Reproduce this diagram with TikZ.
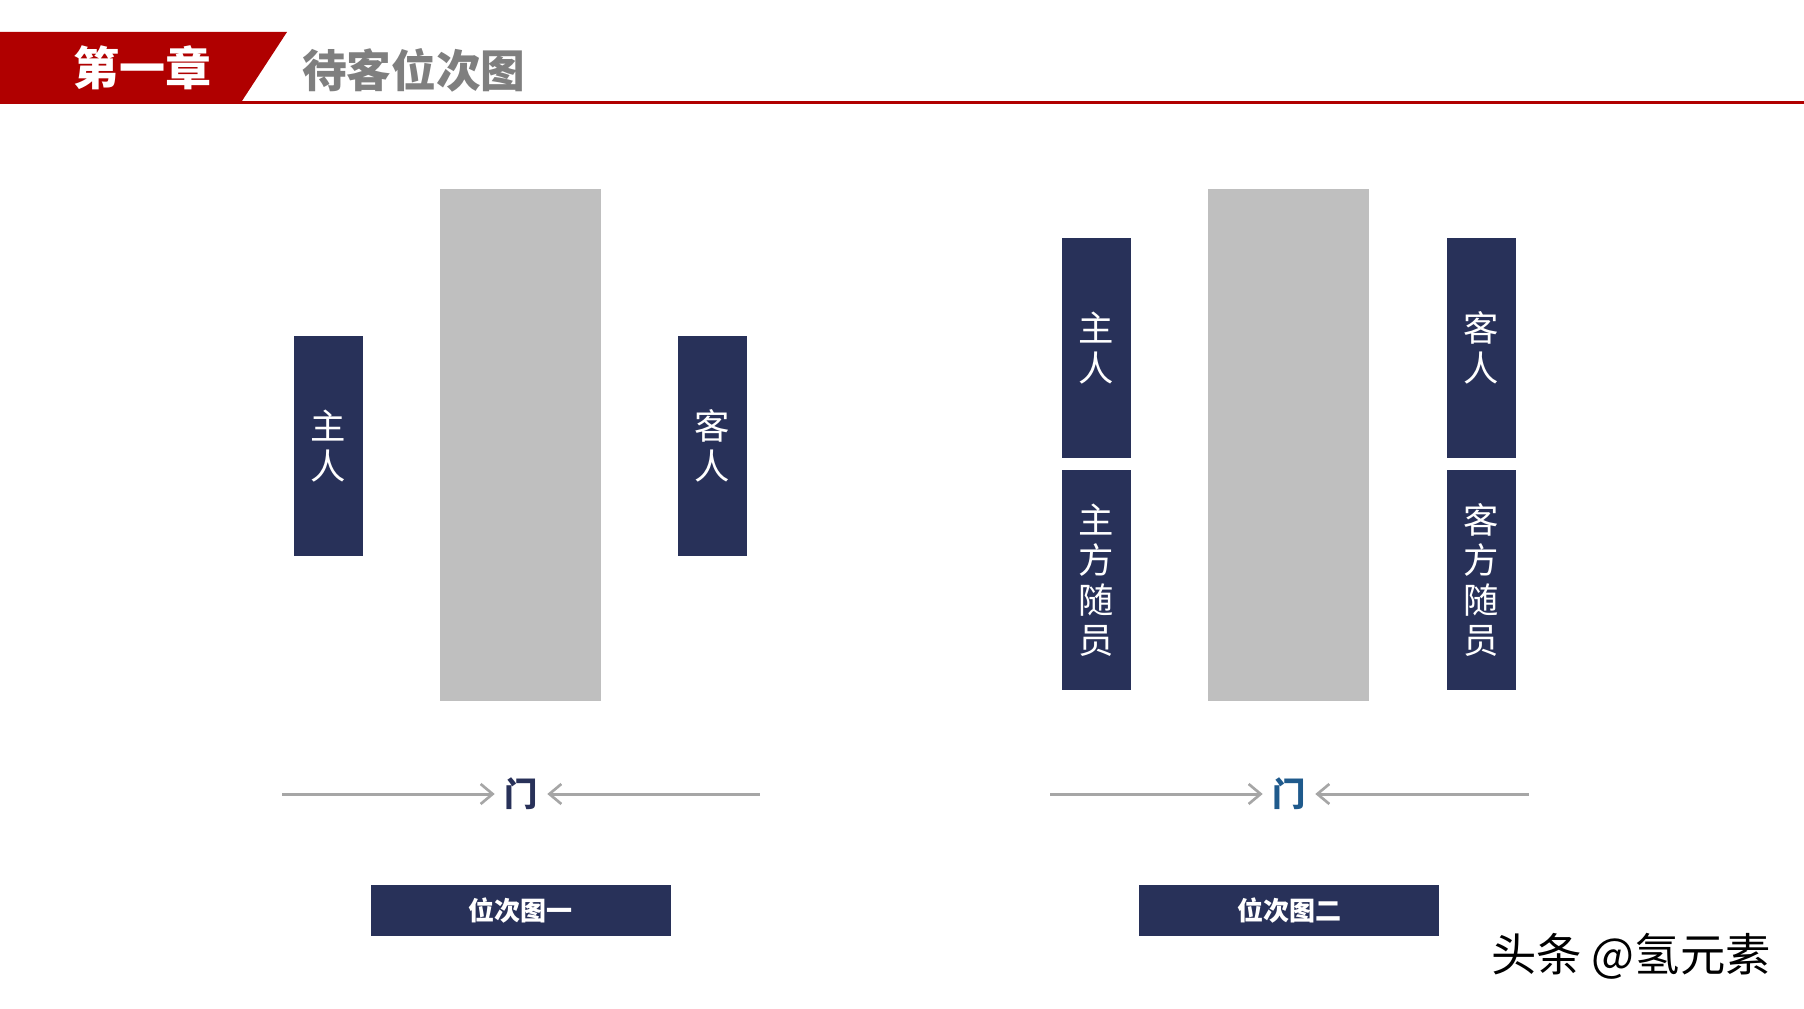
\documentclass[tikz,border=0pt]{standalone}
\usepackage{fontspec}
\newfontfamily\cjk{Noto Sans CJK SC}
\usetikzlibrary{arrows.meta}
\definecolor{navy}{RGB}{40,49,89}
\definecolor{tablegray}{RGB}{191,191,191}
\definecolor{hdrred}{RGB}{176,0,0}
\definecolor{hdrgray}{RGB}{127,127,127}
\definecolor{arrowgray}{RGB}{166,166,166}
\definecolor{doorblue}{RGB}{31,90,140}
\tikzset{
  seat/.style={fill=navy, text=white, inner sep=0pt, minimum width=51.75pt, minimum height=165pt,
    align=center, font=\cjk\fontsize{26.5pt}{30pt}\selectfont},
  tablebox/.style={fill=tablegray, inner sep=0pt, minimum width=120.75pt, minimum height=384pt},
  capbox/.style={fill=navy, text=white, inner sep=0pt, minimum width=225pt, minimum height=38.25pt,
    font=\cjk\bfseries\fontsize{19.5pt}{22pt}\selectfont},
  door/.style={inner sep=0pt, minimum width=39pt, minimum height=30pt,
    font=\cjk\bfseries\fontsize{25pt}{28pt}\selectfont},
  doorarrow/.style={draw=arrowgray, line width=2.25pt,
    -{Straight Barb[length=9pt,width=15pt,line width=2pt]}},
}
\begin{document}
\begin{tikzpicture}[x=0.75pt,y=-0.75pt]
\useasboundingbox (0,0) rectangle (1804,1009);
% header
\fill[hdrred] (0,32) -- (287,32) -- (240,104) -- (0,104) -- cycle;
\fill[hdrred] (240,101) rectangle (1804,104);
\node[text=white, font=\cjk\bfseries\fontsize{34.5pt}{36pt}\selectfont] (chap) at (142,68) {第一章};
\node[text=hdrgray, anchor=west, inner sep=0pt, font=\cjk\bfseries\fontsize{33.5pt}{36pt}\selectfont] (title) at (302,70) {待客位次图};
% figure 1
\node[tablebox] (t1) at (520.5,445) {};
\node[seat] (h1) at (328.5,446) {主\\人};
\node[seat] (g1) at (712,446) {客\\人};
\node[door, text=navy] (d1) at (521,794) {门};
\coordinate (l1) at (282,794);
\coordinate (r1) at (760,794);
\draw[doorarrow] (l1) -- (d1.west);
\draw[doorarrow] (r1) -- (d1.east);
\node[capbox] (c1) at (520.5,910.5) {位次图一};
% figure 2
\node[tablebox] (t2) at (1288.5,445) {};
\node[seat] (h2) at (1096.5,348) {主\\人};
\node[seat] (hf2) at (1096.5,580) {主\\方\\随\\员};
\node[seat] (g2) at (1481.5,348) {客\\人};
\node[seat] (gf2) at (1481.5,580) {客\\方\\随\\员};
\node[door, text=doorblue] (d2) at (1289,794) {门};
\coordinate (l2) at (1050,794);
\coordinate (r2) at (1529,794);
\draw[doorarrow] (l2) -- (d2.west);
\draw[doorarrow] (r2) -- (d2.east);
\node[capbox] (c2) at (1289,910.5) {位次图二};
% watermark
\node[text=black, font=\cjk\fontsize{34pt}{36pt}\selectfont] (wm) at (1631,956) {头条 @氢元素};
\end{tikzpicture}
\end{document}
